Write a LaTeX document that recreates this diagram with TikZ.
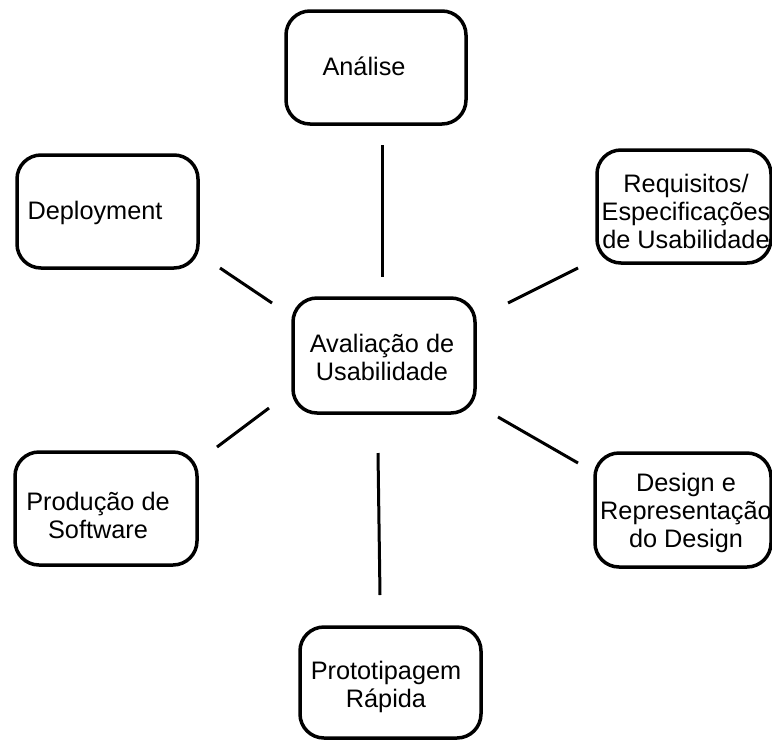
\documentclass[tikz,border=0pt]{standalone}
\usepackage{fontspec}
\setmainfont{Liberation Sans}
\begin{document}
\begin{tikzpicture}[x=1pt,y=-1pt,
  box/.style={draw=black,line width=3.5pt,rounded corners=24pt},
  lbl/.style={align=center,inner sep=0pt,font=\fontsize{25.3}{28}\selectfont},
  link/.style={draw=black,line width=3pt}]
\useasboundingbox (0,0) rectangle (772,740);
% boxes
\path[box] (286,11) rectangle (466,124);
\path[box] (17,155) rectangle (198,268);
\path[box] (597,150) rectangle (771,263);
\path[box] (293,298) rectangle (475,413);
\path[box] (15,452) rectangle (197,565);
\path[box] (595,453) rectangle (771,567);
\path[box] (300,627) rectangle (481,738);
% texts
\node[lbl] (analise) at (364,66) {Análise};
\node[lbl] (deploy) at (95,213) {Deployment};
\node[lbl] (req) at (686,211) {Requisitos/\\Especificações\\de Usabilidade};
\node[lbl] (aval) at (382,357) {Avaliação de\\Usabilidade};
\node[lbl] (prod) at (98,515) {Produção de\\Software};
\node[lbl] (design) at (686,513) {Design e\\Representação\\do Design};
\node[lbl] (proto) at (386,687) {Prototipagem\\Rápida};
% connector ends
\coordinate (a1) at (382,145); \coordinate (a2) at (382,277);
\coordinate (b1) at (220,268); \coordinate (b2) at (272,303);
\coordinate (c1) at (508,303); \coordinate (c2) at (578,268);
\coordinate (d1) at (498,417); \coordinate (d2) at (578,463);
\coordinate (e1) at (217,447); \coordinate (e2) at (269,408);
\coordinate (f1) at (378,453); \coordinate (f2) at (380,595);
\draw[link] (a1) -- (a2);
\draw[link] (b1) -- (b2);
\draw[link] (c1) -- (c2);
\draw[link] (d1) -- (d2);
\draw[link] (e1) -- (e2);
\draw[link] (f1) -- (f2);
\end{tikzpicture}
\end{document}
